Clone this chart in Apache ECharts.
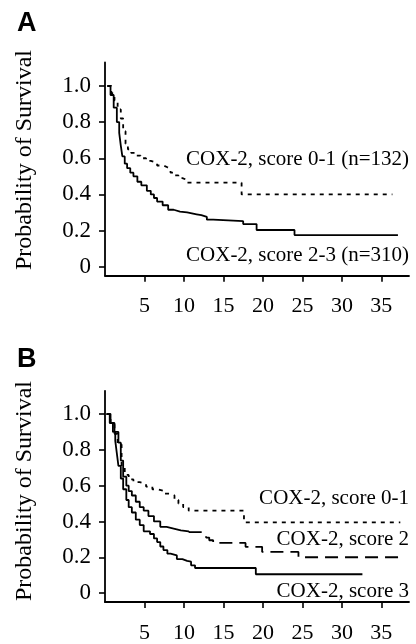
<!DOCTYPE html>
<html>
<head>
<meta charset="utf-8">
<script src="https://cdn.jsdelivr.net/npm/echarts@6/dist/echarts.min.js"></script>
<style>
  html, body { margin: 0; padding: 0; background: #fff; }
  #main { width: 416px; height: 644px; }
</style>
</head>
<body>
<div id="main"></div>
<script>
// tick labels
var xTicks = [5, 10, 15, 20, 25, 30, 35];
var yTicks = [0, 0.2, 0.4, 0.6, 0.8, 1.0];

// panel A : [months, survival]
var scoreLowA = [[0.3,1.0],[0.8,0.96],[1.2,0.92],[1.6,0.87],[2.0,0.82],[2.3,0.75],[2.6,0.68],[2.9,0.65],
  [3.3,0.63],[3.8,0.615],[4.5,0.60],[5.2,0.585],[5.8,0.575],[6.6,0.56],[7.4,0.55],[7.9,0.54],[8.3,0.52],
  [8.8,0.505],[9.3,0.49],[9.8,0.48],[10.4,0.465],[17.3,0.40],[36.4,0.40]];
var scoreHighA = [[0.3,1.0],[0.7,0.95],[1.1,0.88],[1.5,0.80],[1.8,0.74],[2.0,0.67],[2.2,0.61],[2.5,0.57],
  [2.8,0.545],[3.2,0.52],[3.6,0.50],[4.1,0.47],[4.6,0.45],[5.3,0.42],[5.8,0.40],[6.2,0.38],[6.6,0.36],
  [7.3,0.34],[8.0,0.315],[8.7,0.305],[9.5,0.30],[10.4,0.295],[11.0,0.29],[11.6,0.285],[12.2,0.275],
  [12.9,0.26],[13.7,0.252],[17.5,0.236],[19.2,0.203],[24.0,0.175],[37.1,0.175]];

// panel B
var score01B = [[0.2,1.0],[0.7,0.95],[1.2,0.89],[1.6,0.83],[2.1,0.70],[2.5,0.66],[3.0,0.635],[3.6,0.62],
  [4.4,0.61],[5.2,0.595],[6.0,0.58],[6.6,0.57],[7.5,0.555],[8.3,0.545],[8.8,0.52],[9.3,0.50],[9.9,0.48],
  [10.6,0.46],[17.6,0.395],[37.4,0.395]];
var score2B = [[0.2,1.0],[0.7,0.95],[1.2,0.90],[1.7,0.84],[2.0,0.74],[2.3,0.65],[2.7,0.60],[3.0,0.57],
  [3.4,0.545],[3.9,0.51],[4.4,0.48],[4.9,0.46],[5.5,0.43],[6.2,0.40],[7.0,0.37],[7.8,0.36],[8.7,0.35],
  [9.6,0.345],[10.6,0.34],[12.3,0.33],[12.8,0.31],[13.2,0.295],[13.7,0.28],[17.8,0.258],[19.9,0.23],
  [24.5,0.20],[37.4,0.20]];
var score3B = [[0.2,1.0],[0.6,0.95],[1.0,0.90],[1.3,0.85],[1.5,0.78],[1.7,0.71],[2.0,0.64],[2.3,0.58],
  [2.7,0.52],[3.0,0.48],[3.4,0.45],[3.9,0.41],[4.4,0.38],[4.9,0.345],[5.7,0.33],[6.2,0.305],[6.6,0.285],
  [7.0,0.26],[7.4,0.24],[7.9,0.22],[8.3,0.21],[9.1,0.19],[9.8,0.18],[10.4,0.175],[10.9,0.155],[11.4,0.14],
  [19.1,0.105],[32.6,0.105]];

var splitTime = 11; // score 2 curve turns dashed after this

var serif = 'Liberation Serif';

function xAxisFor(i) {
  return {
    gridIndex: i, type: 'value', min: 0, max: 38.5, interval: 5, position: 'bottom',
    axisLine: { show: true, onZero: false, lineStyle: { color: '#000', width: 1.8 } },
    axisTick: { show: true, customValues: xTicks, length: 6, lineStyle: { color: '#000', width: 1.6 } },
    axisLabel: { show: true, customValues: xTicks, margin: 20, fontSize: 22, fontFamily: serif, color: '#000' },
    splitLine: { show: false }
  };
}
function yAxisFor(i) {
  return {
    gridIndex: i, type: 'value', min: -0.05, max: 1.13, position: 'left',
    axisLine: { show: true, onZero: false, lineStyle: { color: '#000', width: 1.8 } },
    axisTick: { show: true, customValues: yTicks, length: 6, lineStyle: { color: '#000', width: 1.6 } },
    axisLabel: {
      show: true, customValues: yTicks, margin: 14, fontSize: 23, fontFamily: serif, color: '#000',
      formatter: function (v) { return v === 0 ? '0' : v.toFixed(1); }
    },
    splitLine: { show: false }
  };
}
function km(data, idx, dash) {
  return {
    type: 'line', step: 'end', data: data, xAxisIndex: idx, yAxisIndex: idx,
    symbol: 'none', animation: false,
    lineStyle: { color: '#000', width: 1.8, type: dash || 'solid' }
  };
}
function label(text, x, y) {
  return { type: 'text', x: x, y: y,
    style: { text: text, font: '21px "Liberation Serif"', fill: '#000', align: 'right', verticalAlign: 'middle' } };
}

var myChart = echarts.init(document.getElementById('main'));
var option = {
  backgroundColor: '#fff',
  animation: false,
  textStyle: { fontFamily: serif, color: '#000' },
  grid: [
    { left: 105, top: 62.5, width: 304, height: 213.2 },
    { left: 105, top: 390.8, width: 304, height: 213.2 }
  ],
  xAxis: [xAxisFor(0), xAxisFor(1)],
  yAxis: [yAxisFor(0), yAxisFor(1)],
  series: [
    km(scoreLowA, 0, [4, 5]),
    km(scoreHighA, 0),
    km(score01B, 1, [4, 5]),
    km(score2B.filter(function (p) { return p[0] <= splitTime; }), 1),
    km(score2B.filter(function (p) { return p[0] >= 10.6; }), 1, [13, 7]),
    km(score3B, 1)
  ],
  graphic: [
    { type: 'text', x: 17, y: 24, style: { text: 'A', font: 'bold 27px "Liberation Sans"', fill: '#000', verticalAlign: 'middle' } },
    { type: 'text', x: 17, y: 360, style: { text: 'B', font: 'bold 27px "Liberation Sans"', fill: '#000', verticalAlign: 'middle' } },
    { type: 'text', x: 25, y: 160, rotation: Math.PI / 2,
      style: { text: 'Probability of Survival', font: '24px "Liberation Serif"', fill: '#000', align: 'center', verticalAlign: 'middle' } },
    { type: 'text', x: 25, y: 491, rotation: Math.PI / 2,
      style: { text: 'Probability of Survival', font: '24px "Liberation Serif"', fill: '#000', align: 'center', verticalAlign: 'middle' } },
    label('COX-2, score 0-1 (n=132)', 409, 159),
    label('COX-2, score 2-3 (n=310)', 409, 255),
    label('COX-2, score 0-1', 409, 498),
    label('COX-2, score 2', 409, 539),
    label('COX-2, score 3', 409, 591)
  ]
};
if (option && typeof option === "object") {
  myChart.setOption(option, true);
}
</script>
</body>
</html>
